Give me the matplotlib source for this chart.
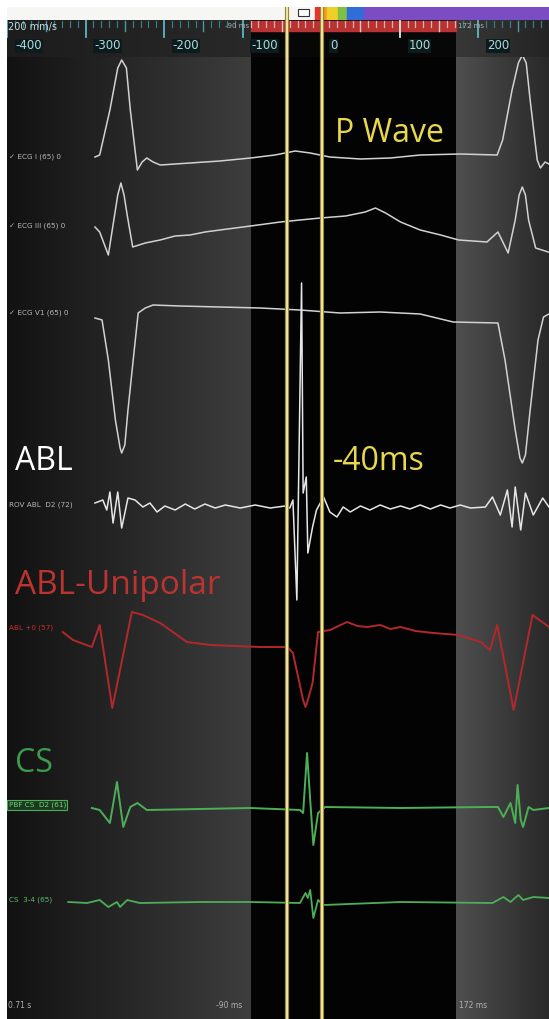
import numpy as np
import matplotlib
matplotlib.use("Agg")
import matplotlib.pyplot as plt
from matplotlib.patches import Rectangle

# ---- traces: time (ms) vs deflection (screen units, up = positive) ----
ecg1_t = [-288, -282, -269, -259, -254, -248, -243, -234, -228, -222, -214, -205, -167, -129, -90,
          -59, -33, -14, 11, 50, 88, 126, 177, 224, 231, 243, 251, 256, 261, 266, 275, 279, 285, 290]
ecg1_v = [1, 3, 48, 90, 98, 90, 48, -12, -4, 0, -4, -7, -5, -3, 0,
          3, 7, 5, 1, -1, 0, 3, 4, 3, 18, 68, 95, 103, 95, 58, -2, -10, -4, -6]

ecg3_t = [-288, -282, -271, -264, -259, -255, -251, -247, -240, -224, -205, -186, -167, -148, -129,
          -90, -52, -27, -1, 31, 56, 69, 82, 101, 126, 152, 175, 211, 225, 238, 247, 252, 256, 260,
          264, 273, 289]
ecg3_v = [8, 3, -20, 15, 40, 52, 40, 20, -12, -8, -5, -1, 0, 3, 5,
          9, 13, 15, 17, 19, 23, 27, 22, 13, 5, 0, -5, -7, 3, -18, 15, 40, 48, 40,
          15, -13, -17]

v1_t = [-288, -279, -271, -262, -256, -254, -250, -246, -238, -233, -224, -214, -180, -129, -78,
        -27, 24, 75, 126, 168, 225, 234, 247, 253, 256, 260, 266, 276, 283, 290]
v1_v = [-3, -5, -45, -105, -133, -138, -130, -95, -35, 2, 7, 10, 9, 8, 7,
        5, 2, 3, 1, -7, -8, -45, -115, -143, -148, -140, -95, -25, -2, 1]

abl_t = [-288, -278, -273, -269, -265, -259, -254, -246, -237, -227, -218, -209, -199, -186, -173,
         -161, -148, -135, -122, -103, -84, -65, -46, -40, -36, -31, -25, -23, -19, -17, -11, -6,
         3, 11, 20, 28, 37, 50, 62, 75, 88, 101, 113, 126, 139, 152, 164, 177, 190, 209, 218,
         228, 237, 243, 247, 254, 260, 270, 282, 290]
abl_v = [4, 7, -3, 15, -16, 15, -21, 9, 7, 0, 4, -5, 1, -3, 3,
         -2, 3, -1, 2, -1, 2, -1, 1, -1, 7, -93, 224, 14, 30, -46, -20, -3,
         10, -5, -10, 0, -5, 1, -3, 2, -2, 1, -2, 2, -2, 2, -1, 2, -1, 0, 10,
         -8, 17, -20, 20, -23, 14, -8, 9, 0]

uni_t = [-329, -316, -292, -282, -266, -241, -227, -205, -171, -141, -78, -43, -36, -23, -20, -17,
         -11, -4, 11, 33, 46, 59, 75, 88, 101, 120, 143, 175, 203, 215, 224, 245, 269, 290]
uni_v = [8, 0, -7, 15, -68, 28, 25, 17, -2, -5, -7, -7, -13, -60, -67, -60,
         -43, 8, 10, 18, 14, 13, 15, 11, 13, 9, 7, 5, -2, -10, 15, -70, 25, 13]

cs12_t = [-292, -282, -269, -260, -252, -243, -234, -222, -154, -90, -27, -23, -18, -14, -10, -4,
          5, 101, 211, 225, 232, 241, 247, 250, 254, 257, 264, 270, 290]
cs12_v = [0, -2, -15, 26, -19, 1, 5, -2, -1, 0, -2, -5, 55, 8, -37, -5,
          1, 0, 1, 1, -9, 5, -15, 23, -12, -19, 1, -2, 0]

cs34_t = [-322, -298, -282, -271, -260, -256, -247, -231, -154, -90, -27, -20, -17, -14, -10, -4,
          3, 101, 218, 232, 241, 251, 257, 270, 290]
cs34_v = [0, -1, 2, -5, 0, -5, 2, -1, 0, 0, -1, 9, 4, 12, -16, 2,
          -3, 0, -1, 5, 0, 7, 2, 5, 4]

channel_names = ["ECG I (65) 0", "ECG III (65) 0", "ECG V1 (65) 0", "ROV ABL  D2 (72)",
                 "ABL +0 (57)", "PBF CS  D2 (61)", "CS  3-4 (65)"]
ruler_ticks = [-400, -300, -200, -100, 0, 100, 200]
window_ms = (-90, 172)        # highlighted window
markers_ms = (-44, 1)         # yellow calipers

W, H = 549, 1019
T0, T1 = -400, 290

fig = plt.figure(figsize=(W / 100, H / 100), dpi=100)
fig.patch.set_facecolor("white")


def strip(row_top, row_bot):
    ax = fig.add_axes([7 / W, 1 - row_bot / H, (W - 7) / W, (row_bot - row_top) / H])
    ax.set_xlim(T0, T1)
    ax.set_ylim(row_bot, row_top)
    ax.axis("off")
    return ax


def shade_bg(ax, top, bot, left_rng, right_rng, mid):
    cols = np.linspace(T0, T1, 542)
    s = np.where(cols < window_ms[0],
                 left_rng[0] + (cols - T0) / (window_ms[0] - T0) * (left_rng[1] - left_rng[0]),
                 np.where(cols <= window_ms[1], mid,
                          right_rng[0] + (cols - window_ms[1]) / (T1 - window_ms[1]) * (right_rng[1] - right_rng[0])))
    img = np.repeat(s[None, :, None], 3, axis=2)
    ax.imshow(img, extent=(T0, T1, bot, top), aspect="auto", interpolation="bilinear", zorder=0)


# top colour strip
top = strip(7, 20)
top.add_patch(Rectangle((T0, 7), window_ms[0] + 80 - T0, 13, color="#f6f6f4", zorder=1))
for a, b, c in [(-8, 1, "#e5352c"), (1, 8, "#f29a22"), (8, 22, "#f0d028"), (22, 33, "#7cc144"),
                (33, 54, "#2f6ed8"), (54, T1, "#7b4dc3")]:
    top.add_patch(Rectangle((a, 7), b - a, 13, color=c, zorder=1))
top.add_patch(Rectangle((-30, 9), 14, 7, facecolor="white", edgecolor="#333333", lw=0.8, zorder=2))

# ruler
rul = strip(20, 57)
shade_bg(rul, 20, 57, (0.11, 0.16), (0.22, 0.14), 0.03)
rul.add_patch(Rectangle((window_ms[0], 21), window_ms[1] - window_ms[0], 10, color="#b83232", zorder=1))
for t in range(T0, T1 + 1, 10):
    inside = window_ms[0] <= t <= window_ms[1]
    if t % 100 == 0:
        rul.plot([t, t], [21, 37], color="#e8e8e8" if inside else "#5cb8c4", lw=1.3, zorder=2)
    elif t % 50 == 0:
        rul.plot([t, t], [21, 31], color="#e8c8c8" if inside else "#4a9aa4", lw=1.0, zorder=2)
    else:
        rul.plot([t, t], [21, 27], color="#e0b0b0" if inside else "#3a7c86", lw=0.9, zorder=2)
for t in ruler_ticks:
    rul.text(t + 11, 46, str(t), color="#a9dcdf", fontsize=8.5, va="center", ha="left", zorder=3,
             bbox=dict(facecolor="#0e1b1d", edgecolor="none", pad=0.6))
rul.text(T0 + 1, 27, "200 mm/s", color="#c0dede", fontsize=7, va="center", ha="left", zorder=3)
rul.text(window_ms[0] - 2, 26, "-90 ms", color="#b0b0b0", fontsize=5, va="center", ha="right", zorder=3)
rul.text(window_ms[1] + 2, 26, "172 ms", color="#b0b0b0", fontsize=5, va="center", ha="left", zorder=3)

# main tracing area
ax = strip(57, H)
shade_bg(ax, 57, H, (0.07, 0.24), (0.31, 0.16), 0.015)

traces = [
    (ecg1_t, ecg1_v, 158, "#d2d2d2", 1.1),
    (ecg3_t, ecg3_v, 235, "#d2d2d2", 1.1),
    (v1_t, v1_v, 315, "#d2d2d2", 1.1),
    (abl_t, abl_v, 507, "#e6e6e6", 1.1),
    (uni_t, uni_v, 640, "#b3282c", 1.4),
    (cs12_t, cs12_v, 808, "#4caf58", 1.4),
    (cs34_t, cs34_v, 902, "#4caf58", 1.3),
]
for t, v, base, col, lw in traces:
    ax.plot(t, base - np.array(v), color=col, lw=lw, zorder=3, solid_joinstyle="round")

# channel labels
lab_rows = [157, 226, 313, 505, 628, 805, 900]
lab_cols = ["#b8b8b8", "#b8b8b8", "#b8b8b8", "#b8b8b8", "#c03030", "#6ed47a", "#5cc068"]
for i, (name, row, col) in enumerate(zip(channel_names, lab_rows, lab_cols)):
    txt = ("\u2713 " + name) if i < 3 else name
    kw = {}
    if i == 5:
        kw["bbox"] = dict(facecolor="#1b3a1f", edgecolor="#4caf58", lw=0.8, pad=1.2)
    ax.text(T0 + 2, row, txt, color=col, fontsize=5.2, va="center", ha="left", zorder=4, **kw)

# annotations
big = dict(fontsize=23, va="center", ha="left", family=["Open Sans", "DejaVu Sans"], zorder=5)
ax.text(18, 133, "P Wave", color="#e8d84c", **big)
ax.text(-390, 462, "ABL", color="white", **big)
ax.text(15, 462, "-40ms", color="#e8d84c", **big)
ax.text(-390, 585, "ABL-Unipolar", color="#bb3431", **{**big, "fontsize": 24})
ax.text(-390, 763, "CS", color="#3d9c4c", **big)

ax.text(T0 + 1, 1005, "0.71 s", color="#b0b0b0", fontsize=5.5, va="center", ha="left", zorder=4)
ax.text(window_ms[0] - 11, 1005, "-90 ms", color="#b0b0b0", fontsize=5.5, va="center", ha="right", zorder=4)
ax.text(window_ms[1] + 4, 1005, "172 ms", color="#b0b0b0", fontsize=5.5, va="center", ha="left", zorder=4)

# yellow calipers across all strips
for a in (top, rul, ax):
    for m in markers_ms:
        a.axvline(m, color="#8c7c2c", lw=3.0, zorder=6)
        a.axvline(m, color="#efe2a0", lw=1.6, zorder=7)

fig.savefig("out.png", dpi=100)
